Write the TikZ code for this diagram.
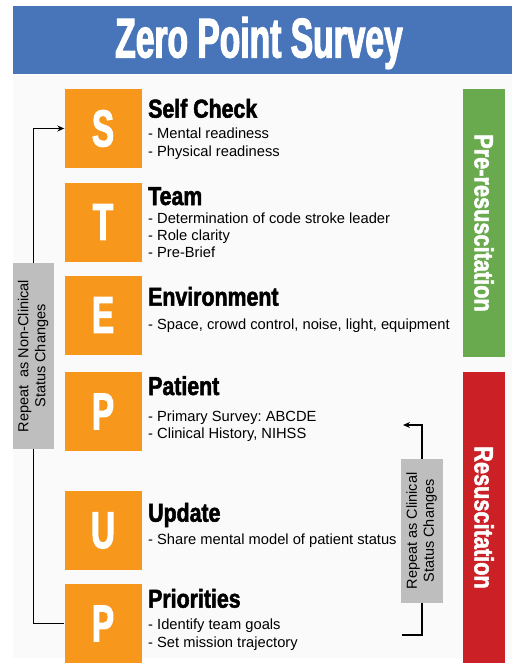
\documentclass[tikz,border=0pt]{standalone}
\usepackage{fontspec}
\usepackage{graphicx}
\setmainfont{Liberation Sans}
\newfontfamily\titlefont[FakeStretch=0.6,FakeBold=2]{Liberation Sans}
\newfontfamily\headfont[FakeStretch=0.82,FakeBold=2]{Liberation Sans}
\newfontfamily\letterfont[FakeStretch=0.64,FakeBold=2]{Liberation Sans}
\usetikzlibrary{arrows.meta}

\definecolor{zpsblue}{RGB}{72,117,186}
\definecolor{zpsorange}{RGB}{247,152,29}
\definecolor{zpsgreen}{RGB}{106,170,78}
\definecolor{zpsred}{RGB}{204,32,39}
\definecolor{zpsgray}{RGB}{190,190,190}

\tikzset{
  titletext/.style={text=white, inner sep=0pt, font=\titlefont\bfseries\fontsize{56}{56}\selectfont},
  letterbox/.style={fill=zpsorange, minimum width=77pt, minimum height=79pt, inner sep=0pt,
    text=white, font=\letterfont\bfseries\fontsize{52}{52}\selectfont},
  heading/.style={anchor=base west, inner sep=0pt, font=\headfont\bfseries\fontsize{26}{26}\selectfont},
  item/.style={anchor=base west, inner sep=0pt, font=\fontsize{14.7}{17}\selectfont},
  phasebar/.style={minimum width=42pt, inner sep=0pt, text=white,
    font=\headfont\bfseries\fontsize{26.5}{26.5}\selectfont},
  repbox/.style={fill=zpsgray, inner sep=0pt, font=\fontsize{14.5}{17}\selectfont},
  repline/.style={line width=1.6pt},
}

\begin{document}
\frenchspacing
\begin{tikzpicture}[x=1pt, y=-1pt]
    \useasboundingbox (0,0) rectangle (512,669);
    \fill[black!2] (13,75) rectangle (512,658);

    % title bar
    \fill[zpsblue] (13,6) rectangle (512,74);
    \node[titletext] (title) at (259,43) {Zero Point Survey};

    % STEP-UP letters
    \foreach \l/\n/\y in {S/s/128.5, T/t/222, E/e/315, P/p/411.5, U/u/530.5, P/pr/623.5}
        \node[letterbox] (\n) at (103,\y) {\l};

    \foreach \t/\y [count=\i] in {Self Check/117.7, Team/205, Environment/305.7,
                                  Patient/395, Update/521.7, Priorities/607.7}
        \node[heading] (h\i) at (148,\y) {\t};

    \foreach \t/\y [count=\i] in {- Mental readiness/138, - Physical readiness/156,
            - Determination of code stroke leader/223, - Role clarity/240, - Pre-Brief/257,
            {- Space, crowd control, noise, light, equipment}/329,
            - Primary Survey: ABCDE/421, {- Clinical History, NIHSS}/438,
            - Share mental model of patient status/544,
            - Identify team goals/629, - Set mission trajectory/647}
        \node[item] (i\i) at (148,\y) {\t};

    % phases
    \node[phasebar, fill=zpsgreen, minimum height=268pt] (pre) at (484,223) {\rotatebox{-90}{Pre-resuscitation}};
    \node[phasebar, fill=zpsred, minimum height=291pt] (res) at (484,517.5) {\rotatebox{-90}{Resuscitation}};

    % repeat loops
    \node[repbox, minimum width=41pt, minimum height=186pt] (lrep) at (33.5,356)
        {\rotatebox{90}{\begin{tabular}{@{}c@{}}Repeat\ \ as Non-Clinical\\Status Changes\end{tabular}}};
    \node[repbox, minimum width=42pt, minimum height=144pt] (rrep) at (422,531)
        {\rotatebox{90}{\begin{tabular}{@{}c@{}}Repeat as Clinical\\Status Changes\end{tabular}}};

    \draw[repline, -{Stealth[length=7pt,width=6pt]}] (lrep.north) |- (s.west);
    \draw[repline] (lrep.south) |- (pr.west);

    \coordinate (rtop) at (403,425);
    \coordinate (rbot) at (402,635);
    \draw[repline, -{Stealth[length=7pt,width=6pt]}] (rrep.north) |- (rtop);
    \draw[repline] (rrep.south) |- (rbot);

\end{tikzpicture}
\end{document}
